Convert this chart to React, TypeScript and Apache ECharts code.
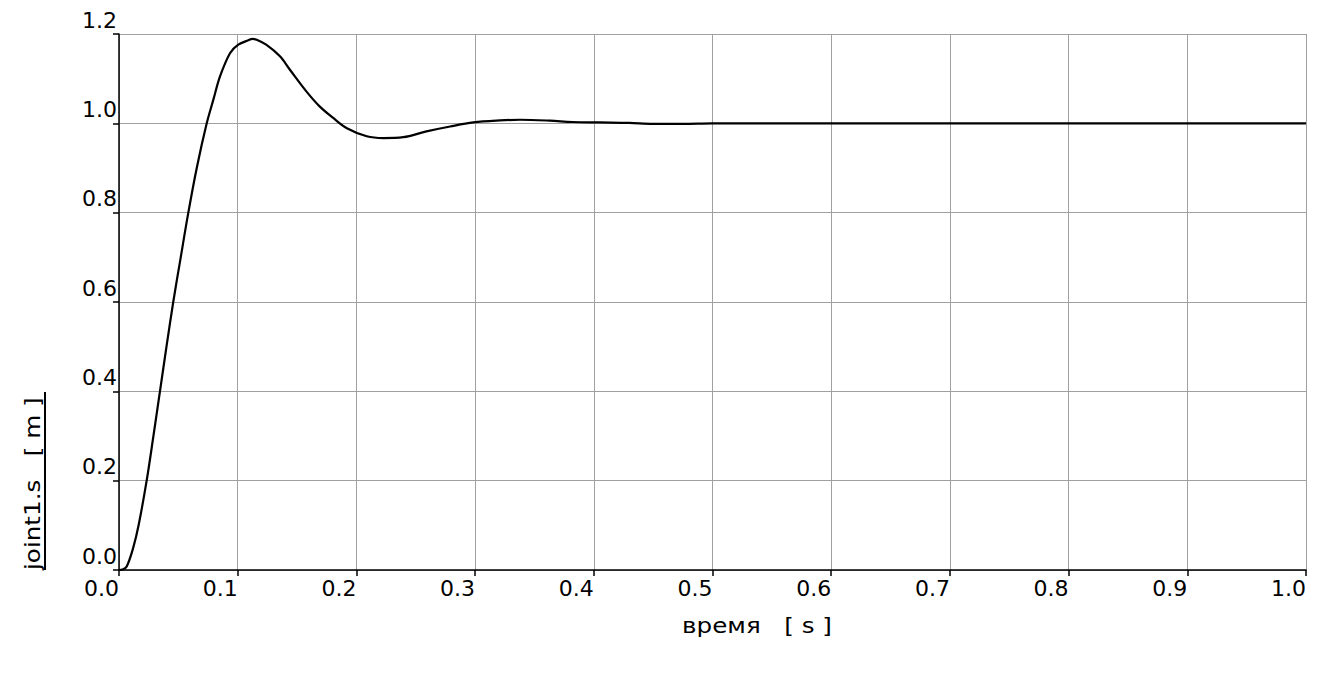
import React, { useEffect, useRef } from "react";
import * as echarts from "echarts";

const timeValues = [
  0, 0.003, 0.0065, 0.012, 0.0165, 0.0233, 0.029, 0.0345, 0.040, 0.0457,
  0.052, 0.0584, 0.0655, 0.0739, 0.0795, 0.0851, 0.0935, 0.1005,
  0.109, 0.1125, 0.116, 0.124, 0.1356, 0.144, 0.158, 0.169, 0.1805, 0.192, 0.2087,
  0.2227, 0.2395, 0.259, 0.279, 0.2985, 0.321, 0.338, 0.363, 0.382, 0.405,
  0.43, 0.45, 0.475, 0.5, 0.6, 0.7, 0.8, 0.9, 1.0,
];
const jointValues = [
  0, 0.001, 0.008, 0.05, 0.1, 0.2, 0.3, 0.4, 0.5, 0.6,
  0.7, 0.8, 0.9, 1.0, 1.053, 1.105, 1.157, 1.176,
  1.186, 1.189, 1.187, 1.176, 1.15, 1.12, 1.071, 1.038, 1.012, 0.989, 0.971,
  0.967, 0.969, 0.982, 0.993, 1.002, 1.0065, 1.008, 1.006, 1.003, 1.002,
  1.001, 0.999, 0.999, 1.0, 1.0, 1.0, 1.0, 1.0, 1.0,
];
const xTitle = "время   [ s ]";
const yTitle = "joint1.s   [ m ]";

const FONT = "'DejaVu Sans', 'Liberation Sans', Arial, sans-serif";

export default function App() {
  const ref = useRef<HTMLDivElement>(null);
  useEffect(() => {
    if (!ref.current) return;
    const chart = echarts.init(ref.current, null, { renderer: "svg" });
    const data = timeValues.map((t, i) => [t, jointValues[i]]);
    chart.setOption({
      animation: false,
      backgroundColor: "#ffffff",
      grid: { left: 119, top: 34, right: 34, bottom: 108, containLabel: false },
      xAxis: {
        type: "value",
        min: 0,
        max: 1,
        interval: 0.1,
        axisLine: { show: true, lineStyle: { color: "#000", width: 1.5 } },
        axisTick: { show: true, length: 6, lineStyle: { color: "#000", width: 1.5 } },
        axisLabel: {
          formatter: (v: number) => v.toFixed(1),
          align: "right",
          verticalAlign: "top",
          margin: 7,
          color: "#000",
          fontSize: 22,
          fontFamily: FONT,
        },
        splitLine: { show: true, lineStyle: { color: "#a0a0a0", width: 1 } },
      },
      yAxis: {
        type: "value",
        min: 0,
        max: 1.2,
        interval: 0.2,
        axisLine: { show: true, lineStyle: { color: "#000", width: 1.5 } },
        axisTick: { show: true, length: 6, lineStyle: { color: "#000", width: 1.5 } },
        axisLabel: {
          formatter: (v: number) => v.toFixed(1),
          align: "right",
          verticalAlign: "bottom",
          margin: 2,
          padding: [0, 0, 3, 0],
          color: "#000",
          fontSize: 22,
          fontFamily: FONT,
        },
        splitLine: { show: true, lineStyle: { color: "#a0a0a0", width: 1 } },
      },
      series: [
        {
          type: "line",
          data,
          showSymbol: false,
          smooth: 0.35,
          lineStyle: { color: "#000", width: 2.2 },
        },
      ],
      graphic: [
        {
          type: "text",
          x: 757,
          y: 625,
          scaleX: 1.12,
          style: {
            text: xTitle,
            fill: "#000",
            fontSize: 22,
            fontFamily: FONT,
            align: "center",
            verticalAlign: "middle",
          },
        },
        {
          type: "text",
          x: 32,
          y: 570,
          rotation: Math.PI / 2,
          scaleX: 1.12,
          style: {
            text: yTitle,
            fill: "#000",
            fontSize: 22,
            fontFamily: FONT,
            align: "left",
            verticalAlign: "middle",
          },
        },
        {
          type: "line",
          shape: { x1: 45, y1: 392, x2: 45, y2: 570 },
          style: { stroke: "#000", lineWidth: 2 },
        },
      ],
    });
    return () => chart.dispose();
  }, []);
  return (
    <div
      ref={ref}
      style={{ position: "absolute", left: 0, top: 0, width: 1340, height: 678 }}
    />
  );
}
